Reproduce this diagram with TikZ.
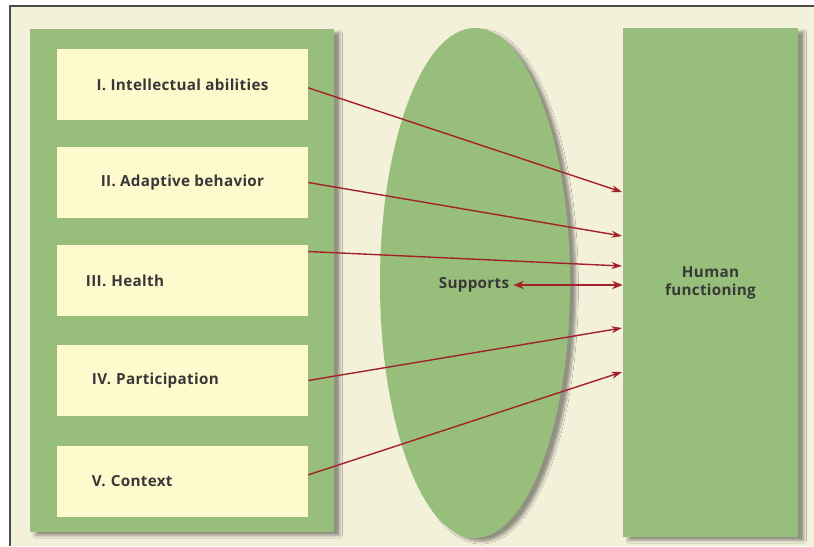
\documentclass[tikz,border=0pt]{standalone}
\usepackage{fontspec}
\setmainfont{Open Sans}[LetterSpace=2]
\usetikzlibrary{arrows.meta,shapes.geometric,shadows.blur}
\definecolor{cream}{HTML}{F4F1DA}
\definecolor{panelgreen}{HTML}{98BE7C}
\definecolor{itemyellow}{HTML}{FFF9CE}
\definecolor{linkred}{HTML}{A3222A}
\tikzset{
  panel/.style={fill=panelgreen, inner sep=0pt, blur shadow={shadow xshift=5pt, shadow yshift=-3pt, shadow blur steps=8, shadow opacity=40}},
  item/.style={fill=itemyellow, inner sep=0pt, minimum width=7.53cm, minimum height=2.13cm},
  link/.style={draw=linkred, line width=1.2pt, -{Stealth[length=9pt, width=6pt]}},
}
\begin{document}
\begin{tikzpicture}[x=0.03cm, y=-0.03cm, font=\fontsize{13}{15.5}\selectfont\bfseries\color{black!78}]
  \useasboundingbox (0,0) rectangle (814,546);
  \fill[white] (0,0) rectangle (814,546);
  \fill[cream] (10,6) rectangle (814,546);
  \draw[black!70, line width=1.5pt] (10,546) -- (10,6) -- (814,6);

  % left panel with the five dimensions
  \node[panel, minimum width=9.12cm, minimum height=15.09cm] (dims) at (182,280.5) {};
  \node[item] (b1) at (182.5,84.5) {I. Intellectual abilities};
  \node[item] (b2) at (182.5,182.5) {II. Adaptive behavior};
  \node[item, align=left, inner xsep=0.87cm, text width=5.79cm] (b3) at (182.5,280.5) {III. Health};
  \node[item, align=left, inner xsep=1.05cm, text width=5.43cm] (b4) at (182.5,380.5) {IV. Participation};
  \node[item, align=left, inner xsep=1.05cm, text width=5.43cm] (b5) at (182.5,481.5) {V. Context};

  % supports and human functioning
  \node[ellipse, panel, minimum width=5.7cm, minimum height=15.3cm] (ell) at (475,283) {};
  \node (sup) at (474,285) {Supports};
  \node[panel, align=center, minimum width=5.25cm, minimum height=15.27cm] (hf) at (710.5,282.5) {Human\\functioning};

  \coordinate (t1) at (622,192);
  \coordinate (t2) at (622,236);
  \coordinate (t3) at (622,266);
  \coordinate (t4) at (622,328);
  \coordinate (t5) at (622,372);

  \draw[link] ([yshift=-0.1cm]b1.east) -- (t1);
  \draw[link] (b2.east) -- (t2);
  \draw[link] ([yshift=0.87cm]b3.east) -- (t3);
  \draw[link] (b4.east) -- (t4);
  \draw[link] ([yshift=0.2cm]b5.east) -- (t5);
  \draw[link, line width=2pt, {Stealth[length=9pt, width=7pt]}-{Stealth[length=9pt, width=7pt]}] (sup.east) -- (sup.east -| hf.west);
\end{tikzpicture}
\end{document}
